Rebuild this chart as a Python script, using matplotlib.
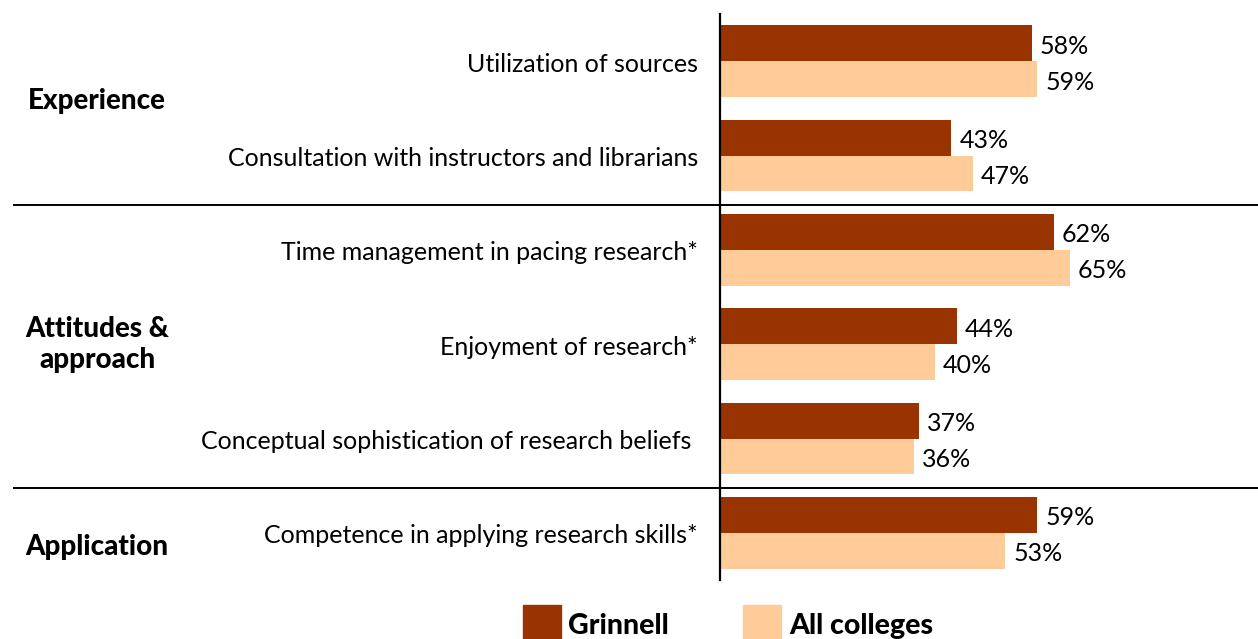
import numpy as np
import matplotlib
matplotlib.use("Agg")
import matplotlib.pyplot as plt
from matplotlib.patches import Rectangle
from matplotlib.transforms import blended_transform_factory, offset_copy

plt.rcParams['font.family'] = ['Lato', 'DejaVu Sans']

# Data
items = ["Utilization of sources",
         "Consultation with instructors and librarians",
         "Time management in pacing research*",
         "Enjoyment of research*",
         "Conceptual sophistication of research beliefs ",
         "Competence in applying research skills*"]
grinnell = [58, 43, 62, 44, 37, 59]
all_colleges = [59, 47, 65, 40, 36, 53]
groups = ["Experience", "Attitudes &\napproach", "Application"]
group_pos = [0.42, 3.0, 5.15]
separators = [1.52, 4.52]

c_grin = "#993300"
c_all = "#FFCC99"

W, H = 1258, 639
fig = plt.figure(figsize=(W / 100, H / 100), dpi=100)
ax = fig.add_axes([720 / W, 1 - 580 / H, 538 / W, 566 / H])

y = np.arange(len(items))
h = 0.38
ax.barh(y - h / 2, grinnell, height=h, color=c_grin)
ax.barh(y + h / 2, all_colleges, height=h, color=c_all)
ax.set_xlim(0, 100)
ax.set_ylim(len(items) - 0.5, -0.5)

for s in ["top", "right", "bottom"]:
    ax.spines[s].set_visible(False)
ax.spines["left"].set_linewidth(1.6)
ax.set_xticks([])
ax.set_yticks([])

lab_tr = offset_copy(ax.transData, fig=fig, x=8, y=-3, units="dots")
for i in range(len(items)):
    ax.text(grinnell[i], y[i] - h / 2, f"{grinnell[i]}%", transform=lab_tr,
            va="center", ha="left", fontsize=18)
    ax.text(all_colleges[i], y[i] + h / 2, f"{all_colleges[i]}%", transform=lab_tr,
            va="center", ha="left", fontsize=18)

cat_tr = offset_copy(ax.transData, fig=fig, x=-22, y=-3, units="dots")
for i, name in enumerate(items):
    ax.text(0, y[i], name, transform=cat_tr, ha="right", va="center",
            fontsize=18, clip_on=False)

bt = blended_transform_factory(fig.transFigure, ax.transData)
for g, p in zip(groups, group_pos):
    ax.text(97 / W, p, g, transform=bt, ha="center", va="center",
            fontsize=20, fontweight="black", linespacing=1.25)

for s in separators:
    ax.plot([14 / W, 1], [s, s], transform=bt, color="black", lw=1.4,
            clip_on=False)

# legend
fig.patches.append(Rectangle((523 / W, 0), 38 / W, 34 / H,
                             transform=fig.transFigure, color=c_grin))
fig.text(568 / W, 13 / H, "Grinnell", ha="left", va="center",
         fontsize=20.5, fontweight="black")
fig.patches.append(Rectangle((743 / W, 0), 38 / W, 34 / H,
                             transform=fig.transFigure, color=c_all))
fig.text(789 / W, 13 / H, "All colleges", ha="left", va="center",
         fontsize=20.5, fontweight="black")

fig.savefig("out.png", dpi=100)
